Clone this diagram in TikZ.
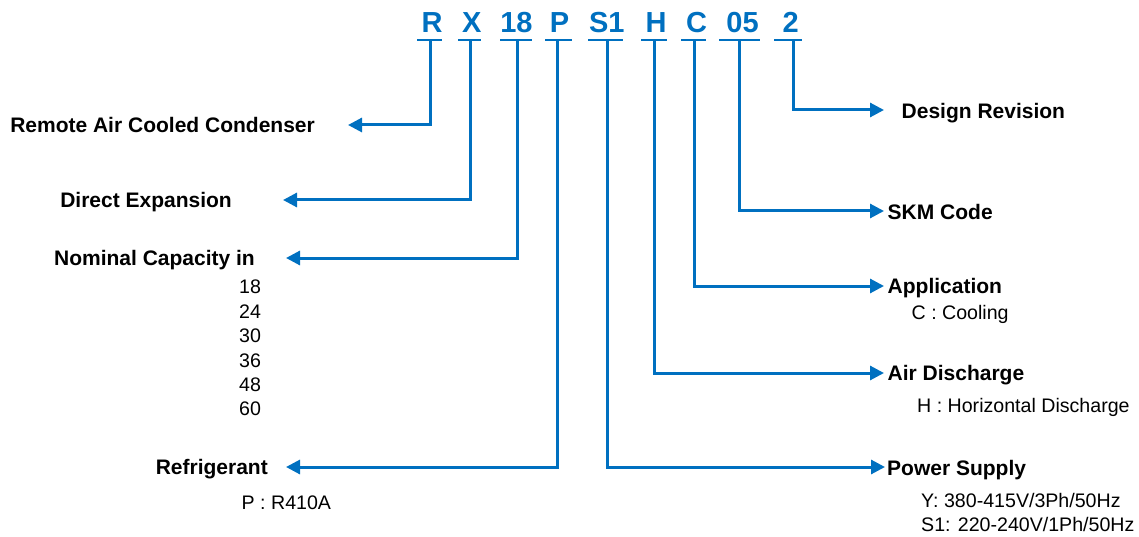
\documentclass[tikz,border=0pt]{standalone}
\usepackage{fontspec}
\setmainfont{Liberation Sans}
\usetikzlibrary{arrows.meta}
\definecolor{codeblue}{RGB}{0,112,192}
\begin{document}
\begin{tikzpicture}[x=1pt,y=-1pt,
  code/.style={inner sep=0pt,text height=20.8pt,text depth=0pt,font=\fontsize{29}{32}\selectfont\bfseries,text=codeblue},
  lab/.style={inner sep=0pt,text height=15pt,text depth=0pt,font=\fontsize{21}{24}\selectfont\bfseries},
  sub/.style={inner sep=0pt,text height=14pt,text depth=0pt,font=\fontsize{19.6}{22}\selectfont,anchor=west},
  ul/.style={draw=codeblue,line width=2.6pt},
  conn/.style={draw=codeblue,line width=3pt,-{Triangle[length=14pt,width=14pt]}}]
\useasboundingbox (0,0) rectangle (1139,537);
% code letters
\node[code] (c1) at (432,22.5) {R};
\node[code] (c2) at (471.7,22.5) {X};
\node[code] (c3) at (516.4,22.5) {18};
\node[code] (c4) at (559.5,22.5) {P};
\node[code] (c5) at (606.8,22.5) {S1};
\node[code] (c6) at (656,22.5) {H};
\node[code] (c7) at (696.7,22.5) {C};
\node[code] (c8) at (742.5,22.5) {05};
\node[code] (c9) at (790.8,22.5) {2};
% underlines
\foreach \i/\a/\b in {1/417/442,2/458/481,3/500/532,4/545/572,5/588/623,6/641/667,7/681/706,8/719/760,9/774/802}{
  \draw[ul] (\a,40) -- (\b,40);
}
% stem tops
\coordinate (s1) at (430,40);
\coordinate (s2) at (470,40);
\coordinate (s3) at (517,40);
\coordinate (s4) at (557,40);
\coordinate (s5) at (607,40);
\coordinate (s6) at (654,40);
\coordinate (s7) at (694,40);
\coordinate (s8) at (739,40);
\coordinate (s9) at (793,40);
% arrow tips
\coordinate (a1) at (348,125);
\coordinate (a2) at (283,200);
\coordinate (a3) at (286,258);
\coordinate (a4) at (286,467);
\coordinate (a5) at (885,467);
\coordinate (a6) at (884,373);
\coordinate (a7) at (884,286);
\coordinate (a8) at (884,211);
\coordinate (a9) at (884,110);
% labels
\node[lab,anchor=east] (l1) at (315,125) {Remote Air Cooled Condenser};
\node[lab,anchor=east] (l2) at (232,200.5) {Direct Expansion};
\node[lab,anchor=east] (l3) at (255,258) {Nominal Capacity in};
\node[lab,anchor=east] (l4) at (268,467) {Refrigerant};
\node[lab,anchor=west] (l5) at (887,468) {Power Supply};
\node[lab,anchor=west] (l6) at (887.5,373) {Air Discharge};
\node[lab,anchor=west] (l7) at (887.5,286) {Application};
\node[lab,anchor=west] (l8) at (887.5,212) {SKM Code};
\node[lab,anchor=west] (l9) at (901.5,111) {Design Revision};
% sub labels
\node[sub] (n1) at (239,286.7) {18};
\node[sub] (n2) at (239,311.2) {24};
\node[sub] (n3) at (239,335.5) {30};
\node[sub] (n4) at (239,360) {36};
\node[sub] (n5) at (239,384.3) {48};
\node[sub] (n6) at (239,408.5) {60};
\node[sub] (p1) at (241.5,502) {P : R410A};
\node[sub] (y1) at (921,500) {Y: 380-415V/3Ph/50Hz};
\node[sub] (y2) at (921,524.5) {S1: 220-240V/1Ph/50Hz};
\node[sub] (h1) at (917,405) {H : Horizontal Discharge};
\node[sub] (k1) at (911.5,312) {C : Cooling};
% connectors
\foreach \i in {1,...,9}{
  \draw[conn] (s\i) |- (a\i);
}
\end{tikzpicture}
\end{document}
